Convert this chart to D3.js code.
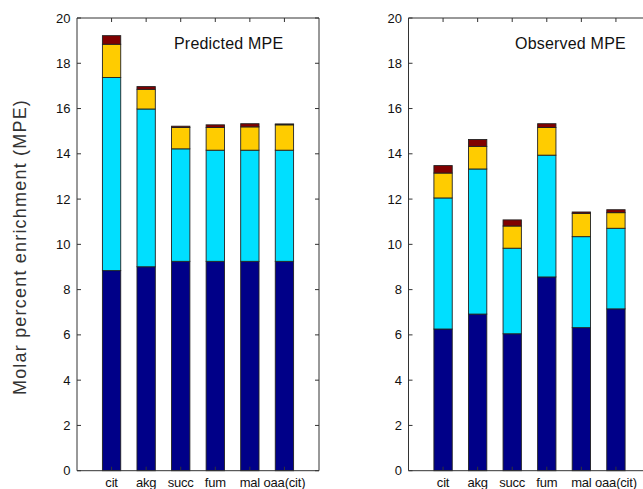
<!DOCTYPE html>
<html>
<head>
<meta charset="utf-8">
<script src="https://cdn.jsdelivr.net/npm/d3@7"></script>
<style>
  body { margin: 0; background: #fff; overflow: hidden; }
  text { font-family: "Liberation Sans", Arial, sans-serif; fill: #111; }
</style>
</head>
<body>
<svg id="chart" width="643" height="489"></svg>
<script>
const categories = ["cit", "akg", "succ", "fum", "mal", "oaa(cit)"];
const layers = ["m1", "m2", "m3", "m4"];
const layerColors = ["#000088", "#00dfff", "#ffcc00", "#800000"];

// segment heights per category: [navy, cyan, yellow, dark red]
const predicted = [
    [8.84, 8.53, 1.47, 0.38],
    [9.01, 6.97, 0.87, 0.12],
    [9.25, 4.97, 0.94, 0.06],
    [9.25, 4.91, 1.00, 0.12],
    [9.25, 4.91, 1.03, 0.14],
    [9.25, 4.91, 1.12, 0.04]
];
const observed = [
    [6.26, 5.79, 1.10, 0.33],
    [6.92, 6.41, 1.00, 0.30],
    [6.05, 3.78, 0.98, 0.27],
    [8.56, 5.38, 1.22, 0.17],
    [6.32, 4.02, 1.03, 0.06],
    [7.15, 3.56, 0.69, 0.13]
];
const yTicks = [0, 2, 4, 6, 8, 10, 12, 14, 16, 18, 20];

const svg = d3.select("#chart");
const plotTop = 18, plotBottom = 470.7;
const y = d3.scaleLinear().domain([0, 20]).range([plotBottom, plotTop]);

svg.append("text")
    .attr("transform", "translate(26,247) rotate(-90)")
    .attr("text-anchor", "middle")
    .style("font-size", "18px")
    .style("letter-spacing", "1.2px")
    .style("fill", "#333")
    .text("Molar percent enrichment (MPE)");

function drawPanel(x0, x1, values, title, titleX) {
    const x = d3.scaleLinear().domain([0, 7]).range([x0, x1]);
    const g = svg.append("g");
    const barW = (x(0.53) - x(0));

    const rows = values.map((v, i) => {
        const r = { cat: categories[i], pos: i + 1 };
        layers.forEach((k, j) => r[k] = v[j]);
        return r;
    });
    const stacked = d3.stack().keys(layers)(rows);

    stacked.forEach((s, j) => {
        g.selectAll(null)
            .data(s)
            .enter()
            .append("rect")
            .attr("x", d => x(d.data.pos) - barW / 2)
            .attr("width", barW)
            .attr("y", d => y(d[1]))
            .attr("height", d => y(d[0]) - y(d[1]))
            .attr("fill", layerColors[j])
            .attr("stroke", "#222")
            .attr("stroke-width", 0.9);
    });

    // box
    g.append("path")
        .attr("d", `M${x0},${plotTop}H${x1}V${plotBottom}H${x0}Z`)
        .attr("fill", "none")
        .attr("stroke", "#333")
        .attr("stroke-width", 1);

    // y ticks left and right, inward
    g.selectAll(null).data(yTicks).enter().append("path")
        .attr("d", d => `M${x0},${y(d)}h4M${x1},${y(d)}h-4`)
        .attr("stroke", "#333");
    g.selectAll(null).data(yTicks).enter().append("text")
        .attr("x", x0 - 6.5)
        .attr("y", d => y(d) + 4.5)
        .attr("text-anchor", "end")
        .style("font-size", "13px")
        .text(d => d);

    // x ticks top and bottom, inward
    g.selectAll(null).data(d3.range(1, 7)).enter().append("path")
        .attr("d", d => `M${x(d)},${plotTop}v4M${x(d)},${plotBottom}v-4`)
        .attr("stroke", "#333");
    g.selectAll(null).data(categories).enter().append("text")
        .attr("x", (d, i) => x(i + 1))
        .attr("y", 487)
        .attr("text-anchor", "middle")
        .style("font-size", "13px")
        .style("letter-spacing", "-0.2px")
        .text(d => d);

    g.append("text")
        .attr("x", titleX)
        .attr("y", 48.5)
        .style("font-size", "16px")
        .style("letter-spacing", "0.2px")
        .text(title);
}

drawPanel(77, 319, predicted, "Predicted MPE", 174);
drawPanel(408.5, 650.5, observed, "Observed MPE", 515);
</script>
</body>
</html>
